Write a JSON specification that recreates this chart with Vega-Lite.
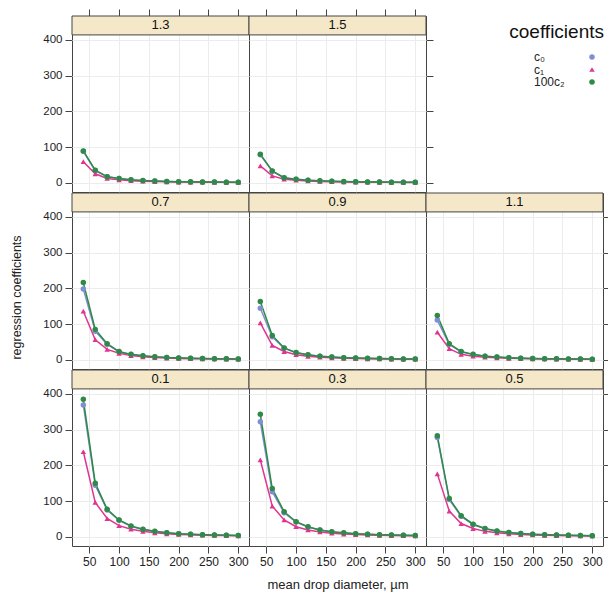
{
  "$schema": "https://vega.github.io/schema/vega-lite/v6.json",
  "padding": {"left": 10, "top": 8, "right": 0, "bottom": 0},
  "background": "white",
  "datasets": {
    "pts": [
      {"p":"0.1","d":40,"c0":369,"c1":238,"c2":385},{"p":"0.1","d":60,"c0":144,"c1":96,"c2":150},{"p":"0.1","d":80,"c0":75,"c1":51,"c2":77},{"p":"0.1","d":100,"c0":46,"c1":31,"c2":47},{"p":"0.1","d":120,"c0":29,"c1":21,"c2":30},{"p":"0.1","d":140,"c0":20.5,"c1":15,"c2":21},{"p":"0.1","d":160,"c0":14.5,"c1":11,"c2":15},{"p":"0.1","d":180,"c0":11,"c1":8,"c2":11.3},{"p":"0.1","d":200,"c0":8.3,"c1":6.5,"c2":8.5},{"p":"0.1","d":220,"c0":6.8,"c1":5.3,"c2":7},{"p":"0.1","d":240,"c0":5.6,"c1":4.4,"c2":5.8},{"p":"0.1","d":260,"c0":4.7,"c1":3.7,"c2":4.8},{"p":"0.1","d":280,"c0":4,"c1":3.1,"c2":4.1},{"p":"0.1","d":300,"c0":3.4,"c1":2.7,"c2":3.5},
      {"p":"0.3","d":40,"c0":322,"c1":215,"c2":343},{"p":"0.3","d":60,"c0":126,"c1":86,"c2":135},{"p":"0.3","d":80,"c0":67,"c1":47,"c2":70},{"p":"0.3","d":100,"c0":41,"c1":28,"c2":42},{"p":"0.3","d":120,"c0":27,"c1":19,"c2":28},{"p":"0.3","d":140,"c0":18.5,"c1":13.5,"c2":19},{"p":"0.3","d":160,"c0":13.5,"c1":10,"c2":14},{"p":"0.3","d":180,"c0":10.5,"c1":7.6,"c2":11},{"p":"0.3","d":200,"c0":8.2,"c1":6,"c2":8.5},{"p":"0.3","d":220,"c0":6.7,"c1":4.9,"c2":7},{"p":"0.3","d":240,"c0":5.5,"c1":4,"c2":5.7},{"p":"0.3","d":260,"c0":4.6,"c1":3.4,"c2":4.7},{"p":"0.3","d":280,"c0":3.9,"c1":2.9,"c2":4},{"p":"0.3","d":300,"c0":3.3,"c1":2.5,"c2":3.4},
      {"p":"0.5","d":40,"c0":278,"c1":176,"c2":283},{"p":"0.5","d":60,"c0":104,"c1":72,"c2":107},{"p":"0.5","d":80,"c0":57,"c1":37,"c2":59},{"p":"0.5","d":100,"c0":34,"c1":23,"c2":35},{"p":"0.5","d":120,"c0":22.5,"c1":15,"c2":23},{"p":"0.5","d":140,"c0":15.5,"c1":11,"c2":16},{"p":"0.5","d":160,"c0":11.5,"c1":8,"c2":12},{"p":"0.5","d":180,"c0":8.8,"c1":6.2,"c2":9},{"p":"0.5","d":200,"c0":6.9,"c1":4.9,"c2":7},{"p":"0.5","d":220,"c0":5.7,"c1":4,"c2":5.8},{"p":"0.5","d":240,"c0":4.7,"c1":3.3,"c2":4.8},{"p":"0.5","d":260,"c0":3.9,"c1":2.8,"c2":4},{"p":"0.5","d":280,"c0":3.3,"c1":2.4,"c2":3.4},{"p":"0.5","d":300,"c0":2.8,"c1":2.1,"c2":2.9},
      {"p":"0.7","d":40,"c0":198,"c1":136,"c2":216},{"p":"0.7","d":60,"c0":80,"c1":56,"c2":85},{"p":"0.7","d":80,"c0":43,"c1":29,"c2":45},{"p":"0.7","d":100,"c0":22,"c1":18,"c2":23},{"p":"0.7","d":120,"c0":14.5,"c1":11.5,"c2":15},{"p":"0.7","d":140,"c0":10.5,"c1":8,"c2":11},{"p":"0.7","d":160,"c0":7.7,"c1":6,"c2":8},{"p":"0.7","d":180,"c0":5.9,"c1":4.6,"c2":6},{"p":"0.7","d":200,"c0":4.8,"c1":3.7,"c2":5},{"p":"0.7","d":220,"c0":3.9,"c1":3,"c2":4},{"p":"0.7","d":240,"c0":3.3,"c1":2.5,"c2":3.4},{"p":"0.7","d":260,"c0":2.8,"c1":2.1,"c2":2.9},{"p":"0.7","d":280,"c0":2.4,"c1":1.8,"c2":2.5},{"p":"0.7","d":300,"c0":2.1,"c1":1.6,"c2":2.2},
      {"p":"0.9","d":40,"c0":144,"c1":103,"c2":163},{"p":"0.9","d":60,"c0":64,"c1":40,"c2":68},{"p":"0.9","d":80,"c0":32,"c1":23,"c2":33},{"p":"0.9","d":100,"c0":19.5,"c1":14,"c2":20},{"p":"0.9","d":120,"c0":13.5,"c1":9.5,"c2":14},{"p":"0.9","d":140,"c0":9.7,"c1":7,"c2":10},{"p":"0.9","d":160,"c0":7.3,"c1":5.2,"c2":7.5},{"p":"0.9","d":180,"c0":5.6,"c1":4,"c2":5.8},{"p":"0.9","d":200,"c0":4.5,"c1":3.2,"c2":4.6},{"p":"0.9","d":220,"c0":3.7,"c1":2.6,"c2":3.8},{"p":"0.9","d":240,"c0":3.1,"c1":2.2,"c2":3.2},{"p":"0.9","d":260,"c0":2.6,"c1":1.8,"c2":2.7},{"p":"0.9","d":280,"c0":2.2,"c1":1.6,"c2":2.3},{"p":"0.9","d":300,"c0":1.9,"c1":1.4,"c2":2},
      {"p":"1.1","d":40,"c0":111,"c1":77,"c2":124},{"p":"1.1","d":60,"c0":43,"c1":31,"c2":45},{"p":"1.1","d":80,"c0":22,"c1":15,"c2":23},{"p":"1.1","d":100,"c0":14.5,"c1":10,"c2":15},{"p":"1.1","d":120,"c0":9.8,"c1":7,"c2":10},{"p":"1.1","d":140,"c0":7.3,"c1":5.2,"c2":7.5},{"p":"1.1","d":160,"c0":5.5,"c1":4,"c2":5.6},{"p":"1.1","d":180,"c0":4.3,"c1":3.1,"c2":4.4},{"p":"1.1","d":200,"c0":3.4,"c1":2.5,"c2":3.5},{"p":"1.1","d":220,"c0":2.8,"c1":2.1,"c2":2.9},{"p":"1.1","d":240,"c0":2.4,"c1":1.7,"c2":2.4},{"p":"1.1","d":260,"c0":2,"c1":1.5,"c2":2.1},{"p":"1.1","d":280,"c0":1.7,"c1":1.3,"c2":1.8},{"p":"1.1","d":300,"c0":1.5,"c1":1.1,"c2":1.6},
      {"p":"1.3","d":40,"c0":88,"c1":59,"c2":89},{"p":"1.3","d":60,"c0":34,"c1":25,"c2":35},{"p":"1.3","d":80,"c0":16.5,"c1":12,"c2":17},{"p":"1.3","d":100,"c0":11.5,"c1":8,"c2":12},{"p":"1.3","d":120,"c0":7.8,"c1":5.6,"c2":8},{"p":"1.3","d":140,"c0":5.8,"c1":4.2,"c2":6},{"p":"1.3","d":160,"c0":4.5,"c1":3.2,"c2":4.6},{"p":"1.3","d":180,"c0":3.5,"c1":2.5,"c2":3.6},{"p":"1.3","d":200,"c0":2.8,"c1":2,"c2":2.9},{"p":"1.3","d":220,"c0":2.3,"c1":1.7,"c2":2.4},{"p":"1.3","d":240,"c0":1.9,"c1":1.4,"c2":2},{"p":"1.3","d":260,"c0":1.7,"c1":1.2,"c2":1.7},{"p":"1.3","d":280,"c0":1.4,"c1":1,"c2":1.5},{"p":"1.3","d":300,"c0":1.2,"c1":0.9,"c2":1.3},
      {"p":"1.5","d":40,"c0":78,"c1":47,"c2":80},{"p":"1.5","d":60,"c0":32,"c1":19,"c2":33},{"p":"1.5","d":80,"c0":13.5,"c1":10,"c2":14},{"p":"1.5","d":100,"c0":9.7,"c1":7,"c2":10},{"p":"1.5","d":120,"c0":6.8,"c1":5,"c2":7},{"p":"1.5","d":140,"c0":5,"c1":3.7,"c2":5.2},{"p":"1.5","d":160,"c0":3.9,"c1":2.8,"c2":4},{"p":"1.5","d":180,"c0":3,"c1":2.2,"c2":3.1},{"p":"1.5","d":200,"c0":2.4,"c1":1.8,"c2":2.5},{"p":"1.5","d":220,"c0":2,"c1":1.5,"c2":2.1},{"p":"1.5","d":240,"c0":1.7,"c1":1.2,"c2":1.7},{"p":"1.5","d":260,"c0":1.4,"c1":1.1,"c2":1.5},{"p":"1.5","d":280,"c0":1.2,"c1":0.9,"c2":1.3},{"p":"1.5","d":300,"c0":1.1,"c1":0.8,"c2":1.1}
    ],
    "leg": [
      {"coef": "title", "lab": "coefficients"}, {"coef": "c0", "lab": "c₀"}, {"coef": "c1", "lab": "c₁"}, {"coef": "c2", "lab": "100c₂"}
    ]
  },
  "vconcat": [
    {
      "hconcat": [
        {
          "data": {"name": "pts"},
          "transform": [{"filter": {"field": "p", "oneOf": ["1.3", "1.5"]}}, {"fold": ["c0", "c1", "c2"], "as": ["coef", "value"]}],
          "facet": {"column": {"field": "p", "type": "nominal", "sort": ["1.3", "1.5"], "header": {"title": null, "labels": false}}},
          "spacing": 0,
          "bounds": "flush",
          "spec": {
            "width": 177, "height": 176,
            "layer": [
              {"transform": [{"filter": "datum.coef == 'c0' && datum.d == 40"}],
               "mark": {"type": "rect", "fill": "#f5e8c8", "stroke": "#444", "strokeWidth": 1},
               "encoding": {
                 "x": {"datum": 21, "type": "quantitative", "scale": {"domain": [21, 318], "nice": false, "zero": false}, "axis": {"orient": "top", "labels": false, "grid": false, "ticks": true, "tickSize": 7, "values": [50,100,150,200,250,300], "title": null}},
                 "x2": {"datum": 318},
                 "y": {"datum": 414, "type": "quantitative", "scale": {"domain": [-26, 467], "nice": false, "zero": false}, "axis": {"orient": "right", "labels": false, "grid": false, "ticks": true, "tickSize": 7, "values": [0,100,200,300,400], "title": null}},
                 "y2": {"datum": 467}
               }},
              {"transform": [{"filter": "datum.coef == 'c0' && datum.d == 40"}],
               "mark": {"type": "text", "fontSize": 13, "font": "Liberation Sans", "color": "#111"},
               "encoding": {
                 "x": {"datum": 169.5, "type": "quantitative", "scale": {"domain": [21, 318], "nice": false, "zero": false}, "axis": null},
                 "y": {"datum": 440.5, "type": "quantitative", "scale": {"domain": [-26, 467], "nice": false, "zero": false}, "axis": null},
                 "text": {"field": "p"}
               }},
              {"mark": {"type": "line", "strokeWidth": 1.5},
               "encoding": {
                 "x": {"field": "d", "type": "quantitative", "scale": {"domain": [21, 318], "nice": false, "zero": false}, "axis": {"labels": false, "ticks": false, "grid": true, "values": [50,100,150,200,250,300], "title": null}},
                 "y": {"field": "value", "type": "quantitative", "scale": {"domain": [-26, 467], "nice": false, "zero": false}, "axis": {"values": [0,100,200,300,400], "grid": true, "tickSize": 7, "title": null}},
                 "color": {"field": "coef", "type": "nominal", "scale": {"domain": ["c0", "c1", "c2"], "range": ["#7f8fd4", "#e0358f", "#2f8a45"]}, "legend": null}
               }},
              {"mark": {"type": "point", "filled": true, "size": 30, "opacity": 1},
               "encoding": {
                 "x": {"field": "d", "type": "quantitative", "scale": {"domain": [21, 318], "nice": false, "zero": false}, "axis": null},
                 "y": {"field": "value", "type": "quantitative", "scale": {"domain": [-26, 467], "nice": false, "zero": false}, "axis": null},
                 "color": {"field": "coef", "type": "nominal", "scale": {"domain": ["c0", "c1", "c2"], "range": ["#7f8fd4", "#e0358f", "#2f8a45"]}, "legend": null},
                 "shape": {"field": "coef", "type": "nominal", "scale": {"domain": ["c0", "c1", "c2"], "range": ["circle", "triangle-up", "circle"]}, "legend": null}
               }}
            ],
            "resolve": {"axis": {"x": "independent", "y": "independent"}}
          }
        },
        {
          "data": {"name": "leg"},
          "width": 170,
          "height": 90,
          "view": {"stroke": null},
          "layer": [
            {"transform": [{"filter": "datum.coef == 'title'"}],
             "mark": {"type": "text", "align": "right", "baseline": "middle", "fontSize": 19, "font": "Liberation Sans", "color": "#111"},
             "encoding": {
               "x": {"datum": 170, "type": "quantitative", "scale": {"domain": [0, 170]}, "axis": null},
               "y": {"field": "coef", "type": "nominal", "scale": {"type": "point", "padding": 0, "domain": ["title", "gap", "c0", "c1", "c2"], "range": [16, 66]}, "axis": null},
               "text": {"field": "lab"}
             }},
            {"transform": [{"filter": "datum.coef != 'title'"}],
             "mark": {"type": "text", "align": "left", "baseline": "middle", "fontSize": 12, "font": "Liberation Sans", "color": "#222"},
             "encoding": {
               "x": {"datum": 100, "type": "quantitative", "scale": {"domain": [0, 170]}, "axis": null},
               "y": {"field": "coef", "type": "nominal", "scale": {"type": "point", "padding": 0, "domain": ["title", "gap", "c0", "c1", "c2"], "range": [16, 66]}, "axis": null},
               "text": {"field": "lab"}
             }},
            {"transform": [{"filter": "datum.coef != 'title'"}],
             "mark": {"type": "point", "filled": true, "size": 30, "opacity": 1},
             "encoding": {
               "x": {"datum": 158, "type": "quantitative", "scale": {"domain": [0, 170]}, "axis": null},
               "y": {"field": "coef", "type": "nominal", "scale": {"type": "point", "padding": 0, "domain": ["title", "gap", "c0", "c1", "c2"], "range": [16, 66]}, "axis": null},
               "color": {"field": "coef", "type": "nominal", "scale": {"domain": ["c0", "c1", "c2"], "range": ["#7f8fd4", "#e0358f", "#2f8a45"]}, "legend": null},
               "shape": {"field": "coef", "type": "nominal", "scale": {"domain": ["c0", "c1", "c2"], "range": ["circle", "triangle-up", "circle"]}, "legend": null}
             }}
          ]
        }
      ],
      "spacing": 0
    },
    {
      "data": {"name": "pts"},
      "transform": [{"filter": {"field": "p", "oneOf": ["0.7", "0.9", "1.1"]}}, {"fold": ["c0", "c1", "c2"], "as": ["coef", "value"]}],
      "facet": {"column": {"field": "p", "type": "nominal", "sort": ["0.7", "0.9", "1.1"], "header": {"title": null, "labels": false}}},
      "spacing": 0,
      "bounds": "flush",
      "spec": {
        "width": 177, "height": 176,
        "layer": [
          {"transform": [{"filter": "datum.coef == 'c0' && datum.d == 40"}],
           "mark": {"type": "rect", "fill": "#f5e8c8", "stroke": "#444", "strokeWidth": 1},
           "encoding": {
             "x": {"datum": 21, "type": "quantitative", "scale": {"domain": [21, 318], "nice": false, "zero": false}, "axis": null},
             "x2": {"datum": 318},
             "y": {"datum": 414, "type": "quantitative", "scale": {"domain": [-26, 467], "nice": false, "zero": false}, "axis": {"orient": "right", "labels": false, "grid": false, "ticks": true, "tickSize": 7, "values": [0,100,200,300,400], "title": null}},
             "y2": {"datum": 467}
           }},
          {"transform": [{"filter": "datum.coef == 'c0' && datum.d == 40"}],
           "mark": {"type": "text", "fontSize": 13, "font": "Liberation Sans", "color": "#111"},
           "encoding": {
             "x": {"datum": 169.5, "type": "quantitative", "scale": {"domain": [21, 318], "nice": false, "zero": false}, "axis": null},
             "y": {"datum": 440.5, "type": "quantitative", "scale": {"domain": [-26, 467], "nice": false, "zero": false}, "axis": null},
             "text": {"field": "p"}
           }},
          {"mark": {"type": "line", "strokeWidth": 1.5},
           "encoding": {
             "x": {"field": "d", "type": "quantitative", "scale": {"domain": [21, 318], "nice": false, "zero": false}, "axis": {"labels": false, "ticks": false, "grid": true, "values": [50,100,150,200,250,300], "title": null}},
             "y": {"field": "value", "type": "quantitative", "scale": {"domain": [-26, 467], "nice": false, "zero": false}, "axis": {"values": [0,100,200,300,400], "grid": true, "tickSize": 7, "title": "regression coefficients", "titlePadding": 19, "titleY": 104}},
             "color": {"field": "coef", "type": "nominal", "scale": {"domain": ["c0", "c1", "c2"], "range": ["#7f8fd4", "#e0358f", "#2f8a45"]}, "legend": null}
           }},
          {"mark": {"type": "point", "filled": true, "size": 30, "opacity": 1},
           "encoding": {
             "x": {"field": "d", "type": "quantitative", "scale": {"domain": [21, 318], "nice": false, "zero": false}, "axis": null},
             "y": {"field": "value", "type": "quantitative", "scale": {"domain": [-26, 467], "nice": false, "zero": false}, "axis": null},
             "color": {"field": "coef", "type": "nominal", "scale": {"domain": ["c0", "c1", "c2"], "range": ["#7f8fd4", "#e0358f", "#2f8a45"]}, "legend": null},
             "shape": {"field": "coef", "type": "nominal", "scale": {"domain": ["c0", "c1", "c2"], "range": ["circle", "triangle-up", "circle"]}, "legend": null}
           }}
        ],
        "resolve": {"axis": {"x": "independent", "y": "independent"}}
      }
    },
    {
      "data": {"name": "pts"},
      "transform": [{"filter": {"field": "p", "oneOf": ["0.1", "0.3", "0.5"]}}, {"fold": ["c0", "c1", "c2"], "as": ["coef", "value"]}],
      "facet": {"column": {"field": "p", "type": "nominal", "sort": ["0.1", "0.3", "0.5"], "header": {"title": "mean drop diameter, µm", "titleOrient": "bottom", "titleFontSize": 13, "titleFontWeight": "normal", "titleColor": "#222", "titleFont": "Liberation Sans", "titlePadding": 2, "labels": false}}},
      "spacing": 0,
      "bounds": "flush",
      "spec": {
        "width": 177, "height": 176,
        "layer": [
          {"transform": [{"filter": "datum.coef == 'c0' && datum.d == 40"}],
           "mark": {"type": "rect", "fill": "#f5e8c8", "stroke": "#444", "strokeWidth": 1},
           "encoding": {
             "x": {"datum": 21, "type": "quantitative", "scale": {"domain": [21, 318], "nice": false, "zero": false}, "axis": null},
             "x2": {"datum": 318},
             "y": {"datum": 414, "type": "quantitative", "scale": {"domain": [-26, 467], "nice": false, "zero": false}, "axis": {"orient": "right", "labels": false, "grid": false, "ticks": true, "tickSize": 7, "values": [0,100,200,300,400], "title": null}},
             "y2": {"datum": 467}
           }},
          {"transform": [{"filter": "datum.coef == 'c0' && datum.d == 40"}],
           "mark": {"type": "text", "fontSize": 13, "font": "Liberation Sans", "color": "#111"},
           "encoding": {
             "x": {"datum": 169.5, "type": "quantitative", "scale": {"domain": [21, 318], "nice": false, "zero": false}, "axis": null},
             "y": {"datum": 440.5, "type": "quantitative", "scale": {"domain": [-26, 467], "nice": false, "zero": false}, "axis": null},
             "text": {"field": "p"}
           }},
          {"mark": {"type": "line", "strokeWidth": 1.5},
           "encoding": {
             "x": {"field": "d", "type": "quantitative", "scale": {"domain": [21, 318], "nice": false, "zero": false}, "axis": {"grid": true, "tickSize": 7, "values": [50,100,150,200,250,300], "title": null, "labelFontSize": 12}},
             "y": {"field": "value", "type": "quantitative", "scale": {"domain": [-26, 467], "nice": false, "zero": false}, "axis": {"values": [0,100,200,300,400], "grid": true, "tickSize": 7, "title": null}},
             "color": {"field": "coef", "type": "nominal", "scale": {"domain": ["c0", "c1", "c2"], "range": ["#7f8fd4", "#e0358f", "#2f8a45"]}, "legend": null}
           }},
          {"mark": {"type": "point", "filled": true, "size": 30, "opacity": 1},
           "encoding": {
             "x": {"field": "d", "type": "quantitative", "scale": {"domain": [21, 318], "nice": false, "zero": false}, "axis": null},
             "y": {"field": "value", "type": "quantitative", "scale": {"domain": [-26, 467], "nice": false, "zero": false}, "axis": null},
             "color": {"field": "coef", "type": "nominal", "scale": {"domain": ["c0", "c1", "c2"], "range": ["#7f8fd4", "#e0358f", "#2f8a45"]}, "legend": null},
             "shape": {"field": "coef", "type": "nominal", "scale": {"domain": ["c0", "c1", "c2"], "range": ["circle", "triangle-up", "circle"]}, "legend": null}
           }}
        ],
        "resolve": {"axis": {"x": "independent", "y": "independent"}}
      }
    }
  ],
  "spacing": -2,
  "resolve": {"scale": {"color": "shared", "shape": "shared"}},
  "config": {
    "font": "Liberation Sans",
    "view": {"stroke": "#444", "strokeWidth": 1},
    "axis": {"domain": false, "labelFont": "Liberation Sans", "titleFont": "Liberation Sans", "labelFontSize": 11.5, "titleFontSize": 12.5, "titleFontWeight": "normal", "labelColor": "#222", "titleColor": "#222", "tickColor": "#444", "gridColor": "#ececec", "labelPadding": 3}
  }
}
